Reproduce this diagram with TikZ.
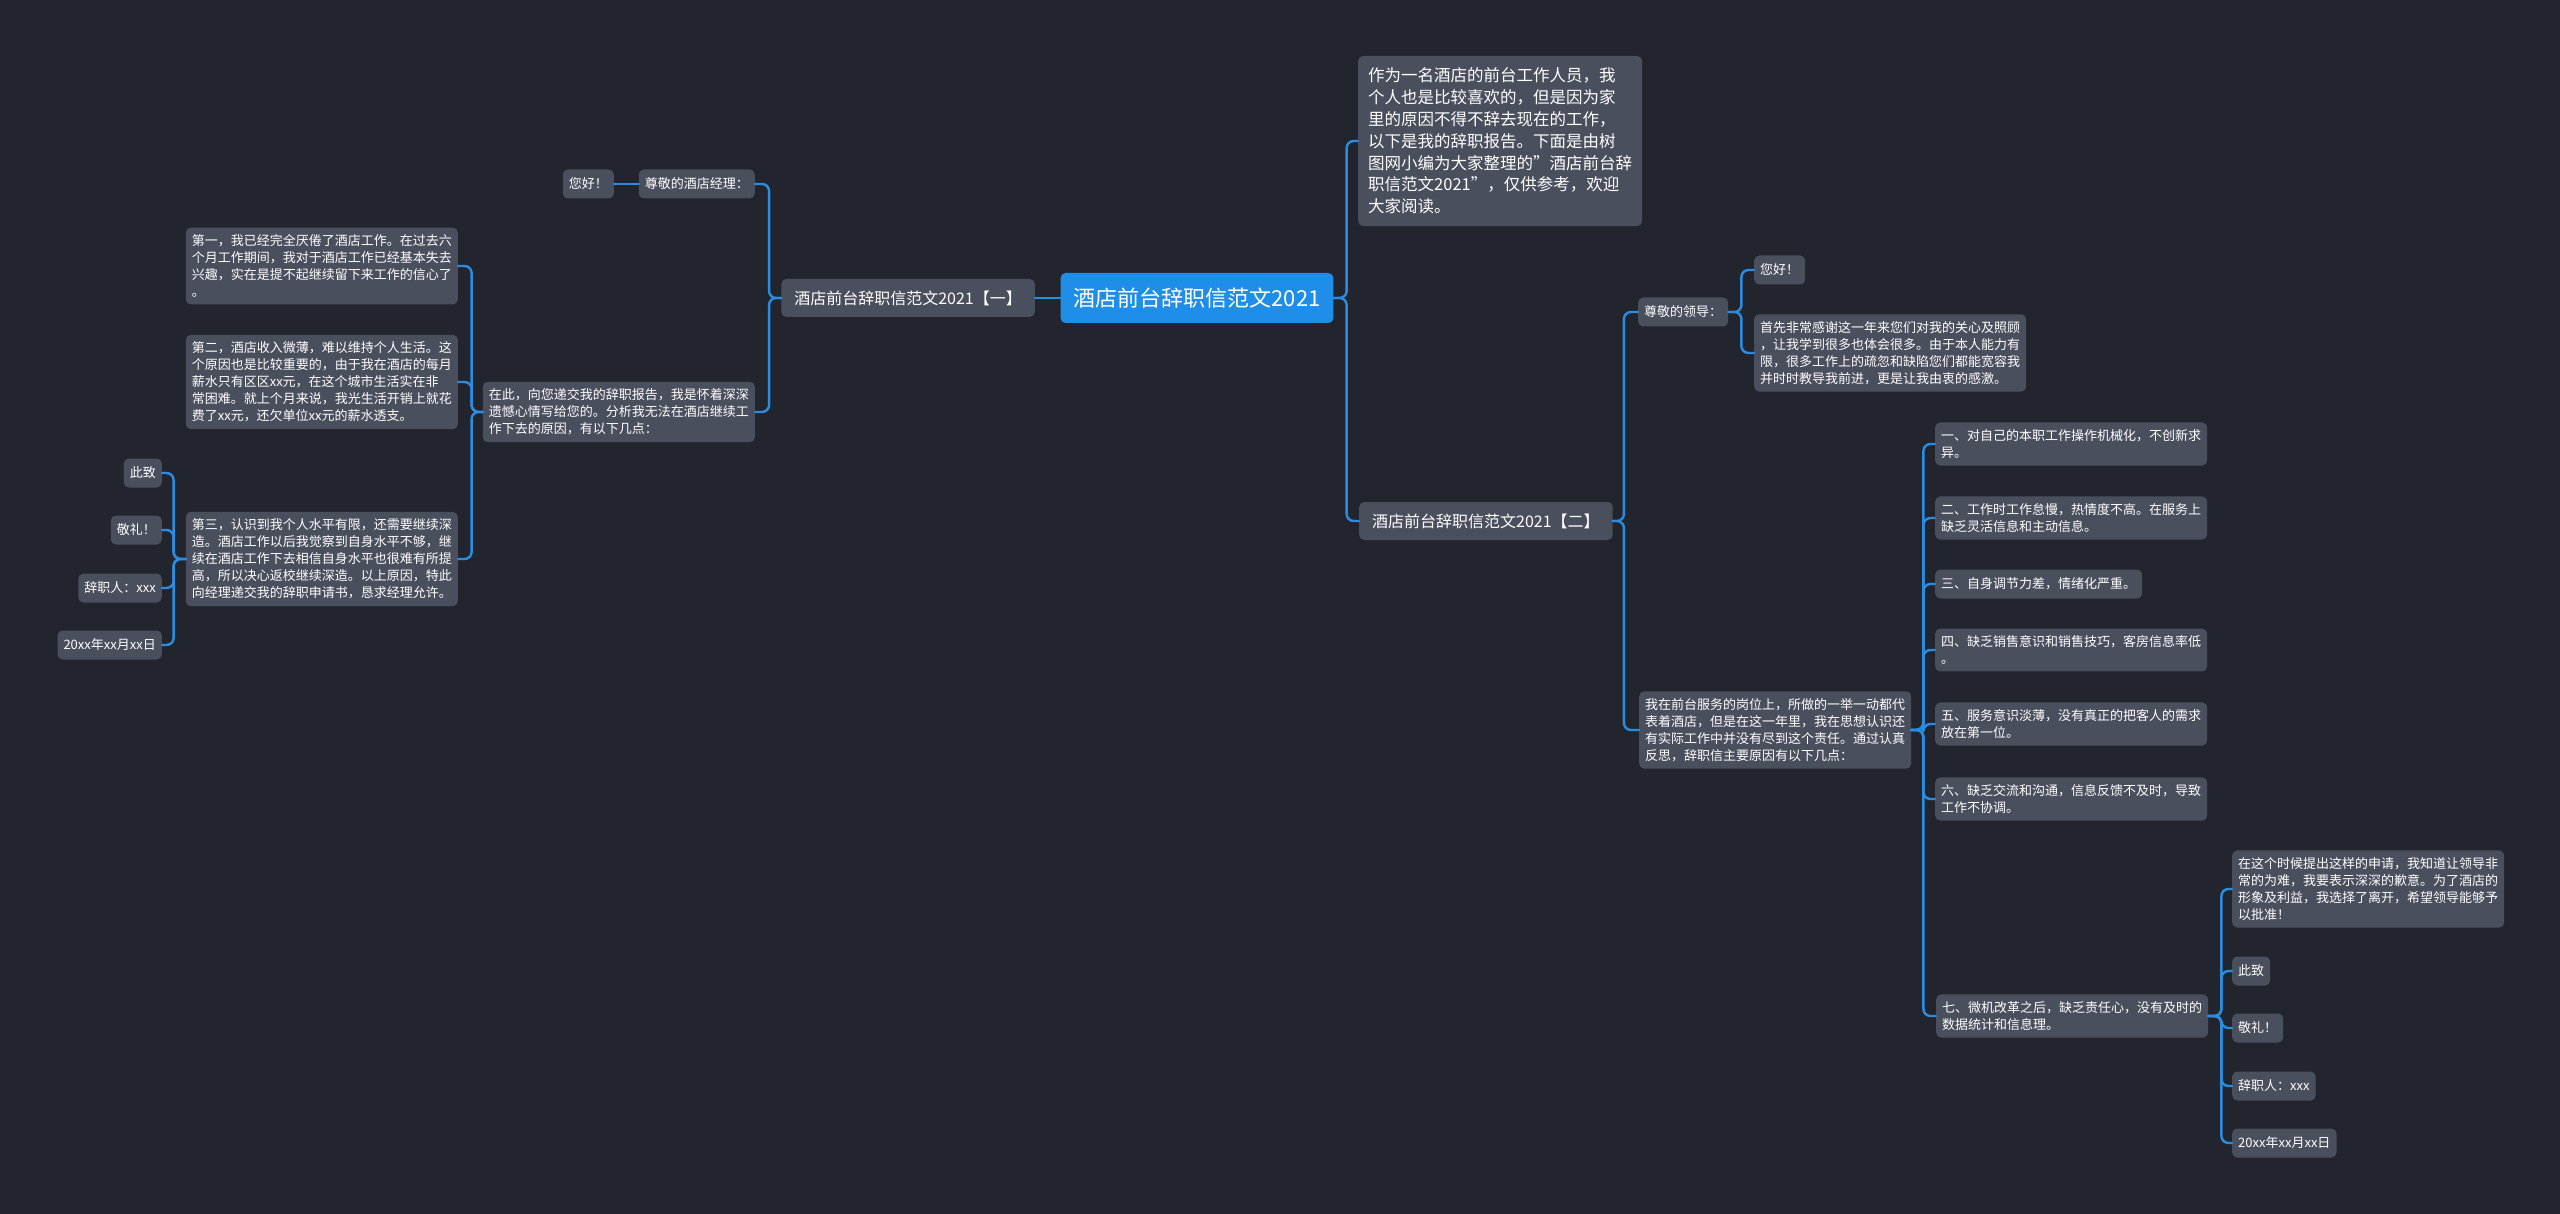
\documentclass[tikz,border=0pt]{standalone}
\usepackage{fontspec}
\setmainfont{Noto Sans CJK SC}
\usepackage{tikz}
\usetikzlibrary{positioning}
\definecolor{bgdark}{HTML}{22252E}
\definecolor{boxgray}{HTML}{4A4F5D}
\definecolor{rootblue}{HTML}{1F8EE8}
\definecolor{linkblue}{HTML}{2A8DE2}
\tikzset{
  every picture/.style={line join=round, line cap=round},
  root/.style={fill=rootblue, text=white, rounded corners=5pt, inner xsep=13pt,
    minimum height=50pt, font=\fontsize{22}{26}\selectfont},
  branch/.style={fill=boxgray, text=white, rounded corners=5pt, inner xsep=13pt,
    minimum height=38pt, font=\fontsize{16}{20}\selectfont},
  leaf/.style={fill=boxgray, text=white, rounded corners=5pt, align=left,
    inner xsep=6pt, inner ysep=7pt, minimum height=29pt,
    font=\fontsize{13}{17}\selectfont},
  intro/.style={leaf, inner xsep=10pt, inner ysep=12pt,
    font=\fontsize{16.5}{21.8}\selectfont},
  link/.style={draw=linkblue, line width=2.4pt, rounded corners=7pt},
}

\begin{document}
\begin{tikzpicture}[x=1pt, y=-1pt]
    % Canvas
    \fill[bgdark] (0,0) rectangle (2560,1214);
    \useasboundingbox (0,0) rectangle (2560,1214);

    % Root and main branches
    \node[root] (root) at (1197,298) {酒店前台辞职信范文2021};
    \node[branch, anchor=east] (b1) at (1035,298) {酒店前台辞职信范文2021【一】};
    \node[branch, anchor=west] (b2) at (1359,521) {酒店前台辞职信范文2021【二】};
    \node[intro, anchor=west] (intro) at (1358,141) {作为一名酒店的前台工作人员，我\\个人也是比较喜欢的，但是因为家\\里的原因不得不辞去现在的工作，\\以下是我的辞职报告。下面是由树\\图网小编为大家整理的"酒店前台辞\\职信范文2021"，仅供参考，欢迎\\大家阅读。};

    % Left side: letter one
    \node[leaf, anchor=east] (m1) at (755,184) {尊敬的酒店经理：};
    \node[leaf, anchor=east] (hi1) at (614,184) {您好！};
    \node[leaf, anchor=east] (m2) at (755,412) {在此，向您递交我的辞职报告，我是怀着深深\\遗憾心情写给您的。分析我无法在酒店继续工\\作下去的原因，有以下几点：};
    \node[leaf, anchor=east] (s1) at (458,266) {第一，我已经完全厌倦了酒店工作。在过去六\\个月工作期间，我对于酒店工作已经基本失去\\兴趣，实在是提不起继续留下来工作的信心了\\。};
    \node[leaf, anchor=east] (s2) at (458,382) {第二，酒店收入微薄，难以维持个人生活。这\\个原因也是比较重要的，由于我在酒店的每月\\薪水只有区区xx元，在这个城市生活实在非\\常困难。就上个月来说，我光生活开销上就花\\费了xx元，还欠单位xx元的薪水透支。};
    \node[leaf, anchor=east] (s3) at (458,559) {第三，认识到我个人水平有限，还需要继续深\\造。酒店工作以后我觉察到自身水平不够，继\\续在酒店工作下去相信自身水平也很难有所提\\高，所以决心返校继续深造。以上原因，特此\\向经理递交我的辞职申请书，恳求经理允许。};
    \node[leaf, anchor=east] (t1) at (162,473) {此致};
    \node[leaf, anchor=east] (t2) at (162,530) {敬礼！};
    \node[leaf, anchor=east] (t3) at (162,588) {辞职人：xxx};
    \node[leaf, anchor=east] (t4) at (162,645) {20xx年xx月xx日};

    % Right side: letter two
    \node[leaf, anchor=west] (lead) at (1638,312) {尊敬的领导：};
    \node[leaf, anchor=west] (hi2) at (1754,270) {您好！};
    \node[leaf, anchor=west] (thanks) at (1754,353) {首先非常感谢这一年来您们对我的关心及照顾\\，让我学到很多也体会很多。由于本人能力有\\限，很多工作上的疏忽和缺陷您们都能宽容我\\并时时教导我前进，更是让我由衷的感激。};
    \node[leaf, anchor=west] (reason) at (1639,730) {我在前台服务的岗位上，所做的一举一动都代\\表着酒店，但是在这一年里，我在思想认识还\\有实际工作中并没有尽到这个责任。通过认真\\反思，辞职信主要原因有以下几点：};
    \node[leaf, anchor=west] (p1) at (1935,444) {一、对自己的本职工作操作机械化，不创新求\\异。};
    \node[leaf, anchor=west] (p2) at (1935,518) {二、工作时工作怠慢，热情度不高。在服务上\\缺乏灵活信息和主动信息。};
    \node[leaf, anchor=west] (p3) at (1935,584) {三、自身调节力差，情绪化严重。};
    \node[leaf, anchor=west] (p4) at (1935,650) {四、缺乏销售意识和销售技巧，客房信息率低\\。};
    \node[leaf, anchor=west] (p5) at (1935,724) {五、服务意识淡薄，没有真正的把客人的需求\\放在第一位。};
    \node[leaf, anchor=west] (p6) at (1935,799) {六、缺乏交流和沟通，信息反馈不及时，导致\\工作不协调。};
    \node[leaf, anchor=west] (p7) at (1936,1016) {七、微机改革之后，缺乏责任心，没有及时的\\数据统计和信息理。};
    \node[leaf, anchor=west] (q1) at (2232,889) {在这个时候提出这样的申请，我知道让领导非\\常的为难，我要表示深深的歉意。为了酒店的\\形象及利益，我选择了离开，希望领导能够予\\以批准！};
    \node[leaf, anchor=west] (q2) at (2232,971) {此致};
    \node[leaf, anchor=west] (q3) at (2232,1028) {敬礼！};
    \node[leaf, anchor=west] (q4) at (2232,1086) {辞职人：xxx};
    \node[leaf, anchor=west] (q5) at (2232,1143) {20xx年xx月xx日};

    % Connectors, left
    \draw[link] (root.west) -- (b1.east);
    \foreach \c in {m1, m2} {
        \draw[link] (b1.west) -- ++(-12,0) |- (\c.east);
    }
    \draw[link] (m1.west) -- (hi1.east);
    \foreach \c in {s1, s2, s3} {
        \draw[link] (m2.west) -- ++(-11,0) |- (\c.east);
    }
    \foreach \c in {t1, t2, t3, t4} {
        \draw[link] (s3.west) -- ++(-12,0) |- (\c.east);
    }

    % Connectors, right
    \foreach \c in {intro, b2} {
        \draw[link] (root.east) -- ++(13,0) |- (\c.west);
    }
    \foreach \c in {lead, reason} {
        \draw[link] (b2.east) -- ++(11,0) |- (\c.west);
    }
    \foreach \c in {hi2, thanks} {
        \draw[link] (lead.east) -- ++(13,0) |- (\c.west);
    }
    \foreach \c in {p1, p2, p3, p4, p5, p6, p7} {
        \draw[link] (reason.east) -- ++(12,0) |- (\c.west);
    }
    \foreach \c in {q1, q2, q3, q4, q5} {
        \draw[link] (p7.east) -- ++(13,0) |- (\c.west);
    }
\end{tikzpicture}
\end{document}
